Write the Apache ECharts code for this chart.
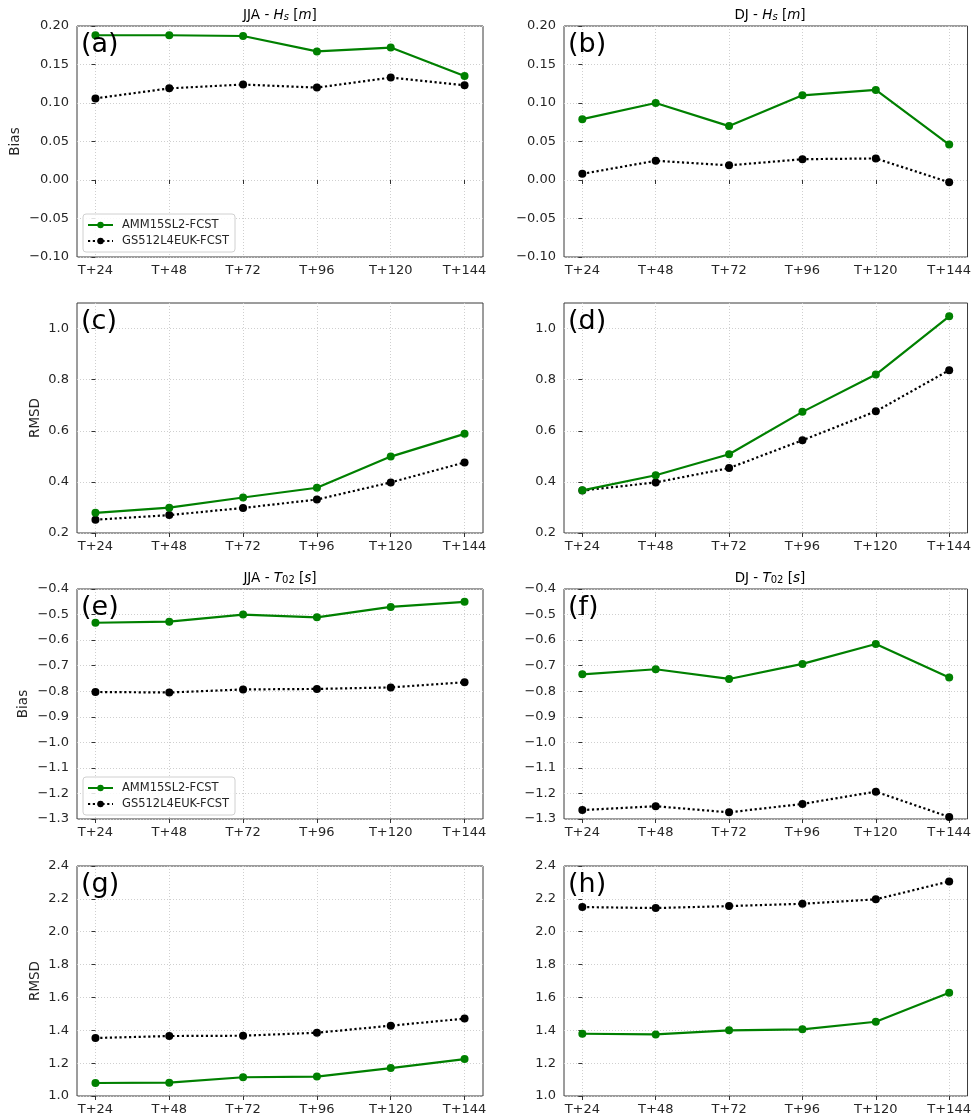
<!DOCTYPE html>
<html>
<head>
<meta charset="utf-8">
<script src="https://cdn.jsdelivr.net/npm/echarts@6/dist/echarts.min.js"></script>
<style>
  html, body { margin: 0; padding: 0; background: #fff; }
  #chart { width: 974px; height: 1118px; }
</style>
</head>
<body>
<div id="chart"></div>
<script>
// forecast lead times
const categories = ['T+24', 'T+48', 'T+72', 'T+96', 'T+120', 'T+144']
const seriesNames = ['AMM15SL2-FCST', 'GS512L4EUK-FCST']

// (a) JJA Hs bias
const ammA = [0.188, 0.188, 0.187, 0.167, 0.172, 0.135]
const gsA = [0.106, 0.119, 0.124, 0.120, 0.133, 0.123]
// (b) DJ Hs bias
const ammB = [0.079, 0.100, 0.070, 0.110, 0.117, 0.046]
const gsB = [0.008, 0.025, 0.019, 0.027, 0.028, -0.003]
// (c) JJA Hs RMSD
const ammC = [0.279, 0.299, 0.339, 0.377, 0.499, 0.588]
const gsC = [0.252, 0.270, 0.298, 0.331, 0.398, 0.476]
// (d) DJ Hs RMSD
const ammD = [0.367, 0.426, 0.508, 0.674, 0.820, 1.048]
const gsD = [0.366, 0.398, 0.454, 0.563, 0.676, 0.837]
// (e) JJA T02 bias
const ammE = [-0.532, -0.528, -0.500, -0.511, -0.470, -0.450]
const gsE = [-0.803, -0.805, -0.793, -0.791, -0.785, -0.765]
// (f) DJ T02 bias
const ammF = [-0.734, -0.714, -0.752, -0.693, -0.615, -0.746]
const gsF = [-1.265, -1.250, -1.274, -1.241, -1.193, -1.292]
// (g) JJA T02 RMSD
const ammG = [1.079, 1.081, 1.114, 1.118, 1.170, 1.225]
const gsG = [1.353, 1.365, 1.367, 1.385, 1.428, 1.471]
// (h) DJ T02 RMSD
const ammH = [1.379, 1.375, 1.400, 1.406, 1.452, 1.629]
const gsH = [2.150, 2.144, 2.156, 2.170, 2.197, 2.306]

// y tick values
const ticksHsBias = [-0.10, -0.05, 0.00, 0.05, 0.10, 0.15, 0.20]
const ticksHsRmsd = [0.2, 0.4, 0.6, 0.8, 1.0]
const ticksTBias = [-1.3, -1.2, -1.1, -1.0, -0.9, -0.8, -0.7, -0.6, -0.5, -0.4]
const ticksTRmsd = [1.0, 1.2, 1.4, 1.6, 1.8, 2.0, 2.2, 2.4]

const panels = [
  { tag: '(a)', row: 0, col: 0, amm: ammA, gs: gsA, ticks: ticksHsBias, min: -0.10, max: 0.20, dec: 2, yName: 'Bias', nameGap: 55, legend: true },
  { tag: '(b)', row: 0, col: 1, amm: ammB, gs: gsB, ticks: ticksHsBias, min: -0.10, max: 0.20, dec: 2 },
  { tag: '(c)', row: 1, col: 0, amm: ammC, gs: gsC, ticks: ticksHsRmsd, min: 0.2, max: 1.1, dec: 1, yName: 'RMSD', nameGap: 35 },
  { tag: '(d)', row: 1, col: 1, amm: ammD, gs: gsD, ticks: ticksHsRmsd, min: 0.2, max: 1.1, dec: 1 },
  { tag: '(e)', row: 2, col: 0, amm: ammE, gs: gsE, ticks: ticksTBias, min: -1.3, max: -0.4, dec: 1, yName: 'Bias', nameGap: 47, legend: true },
  { tag: '(f)', row: 2, col: 1, amm: ammF, gs: gsF, ticks: ticksTBias, min: -1.3, max: -0.4, dec: 1 },
  { tag: '(g)', row: 3, col: 0, amm: ammG, gs: gsG, ticks: ticksTRmsd, min: 1.0, max: 2.4, dec: 1, yName: 'RMSD', nameGap: 35 },
  { tag: '(h)', row: 3, col: 1, amm: ammH, gs: gsH, ticks: ticksTRmsd, min: 1.0, max: 2.4, dec: 1 }
]

// layout
const colLeft = [77, 564]
const colWidth = [406, 407]
const rowTop = [26, 303, 589, 866]
const rowHeight = [231, 230, 230, 230]

const FONT = 'DejaVu Sans'
const TXT = '#262626'

const fmt = (v, dec) => {
  const s = Math.abs(v).toFixed(dec)
  return v < -1e-9 ? '\u2212' + s : s
}

const chart = echarts.init(document.getElementById('chart'), null, { renderer: 'canvas' })

const grid = []
const xAxis = []
const yAxis = []
const series = []
const legend = []
const graphic = []

panels.forEach((p, i) => {
  const left = colLeft[p.col]
  const top = rowTop[p.row]
  grid.push({
    left: left, top: top, width: colWidth[p.col], height: rowHeight[p.row],
    show: true, borderColor: '#3a3a3a', borderWidth: 1, backgroundColor: 'transparent'
  })
  xAxis.push({
    type: 'value', gridIndex: i, min: -0.25, max: 5.25,
    axisLine: { show: false },
    axisTick: { show: true, length: 4, lineStyle: { color: '#333' }, customValues: [0, 1, 2, 3, 4, 5] },
    axisLabel: {
      customValues: [0, 1, 2, 3, 4, 5], formatter: (v) => categories[Math.round(v)],
      color: TXT, fontFamily: FONT, fontSize: 13, margin: 7
    },
    splitLine: { show: true, lineStyle: { color: '#cfcfcf', width: 1, type: [1, 2] } }
  })
  yAxis.push({
    type: 'value', gridIndex: i, min: p.min, max: p.max,
    name: p.yName || '', nameLocation: 'middle', nameGap: p.nameGap || 0,
    nameTextStyle: { color: TXT, fontFamily: FONT, fontSize: 13.5 },
    axisLine: { show: false },
    axisTick: { show: true, length: 4, lineStyle: { color: '#333' }, customValues: p.ticks },
    axisLabel: {
      customValues: p.ticks, formatter: (v) => fmt(v, p.dec),
      color: TXT, fontFamily: FONT, fontSize: 13, margin: 8
    },
    splitLine: { show: true, lineStyle: { color: '#cfcfcf', width: 1, type: [1, 2] } }
  })
  series.push({
    name: seriesNames[0], type: 'line', xAxisIndex: i, yAxisIndex: i,
    data: p.amm.map((v, k) => [k, v]),
    symbol: 'circle', symbolSize: 8, z: 3,
    lineStyle: { color: 'green', width: 2.2 },
    itemStyle: { color: 'green' }
  })
  series.push({
    name: seriesNames[1], type: 'line', xAxisIndex: i, yAxisIndex: i,
    data: p.gs.map((v, k) => [k, v]),
    symbol: 'circle', symbolSize: 8, z: 2,
    lineStyle: { color: '#000', width: 2.2, type: [2.2, 2.6] },
    itemStyle: { color: '#000' }
  })
  // panel letter
  graphic.push({
    type: 'text', x: left + 4, y: top + 19, z: 10,
    style: { text: p.tag, fill: '#000', fontFamily: FONT, fontSize: 27, align: 'left', verticalAlign: 'middle' }
  })
  if (p.legend) {
    legend.push({
      data: seriesNames, orient: 'vertical', left: left + 6, top: top + 188,
      itemWidth: 25, itemHeight: 8, itemGap: 4, padding: [5, 6, 5, 4],
      backgroundColor: 'rgba(255,255,255,0.85)', borderColor: '#d0d0d0', borderWidth: 1, borderRadius: 3,
      textStyle: { color: TXT, fontFamily: FONT, fontSize: 11.5, padding: [0, 0, 0, 4] },
      selectedMode: false
    })
  }
})

// panel titles with italic symbols and subscripts
const rich = {
  n: { fontFamily: FONT, fontSize: 13.5, color: TXT },
  i: { fontFamily: FONT, fontSize: 13.5, fontStyle: 'italic', color: TXT },
  si: { fontFamily: FONT, fontSize: 10, fontStyle: 'italic', color: TXT, verticalAlign: 'bottom', lineHeight: 9 },
  s: { fontFamily: FONT, fontSize: 10, color: TXT, verticalAlign: 'bottom', lineHeight: 9 }
}
const titles = [
  { x: 280, y: 15, text: '{n|JJA - }{i|H}{si|s}{n| [}{i|m}{n|]}' },
  { x: 770, y: 15, text: '{n|DJ - }{i|H}{si|s}{n| [}{i|m}{n|]}' },
  { x: 280, y: 578, text: '{n|JJA - }{i|T}{s|02}{n| [}{i|s}{n|]}' },
  { x: 770, y: 578, text: '{n|DJ - }{i|T}{s|02}{n| [}{i|s}{n|]}' }
]
titles.forEach((t) => {
  graphic.push({
    type: 'text', x: t.x, y: t.y,
    style: { text: t.text, rich: rich, align: 'center', verticalAlign: 'middle' }
  })
})

chart.setOption({
  animation: false,
  backgroundColor: '#fff',
  grid: grid,
  xAxis: xAxis,
  yAxis: yAxis,
  legend: legend,
  graphic: graphic,
  series: series
})
</script>
</body>
</html>
